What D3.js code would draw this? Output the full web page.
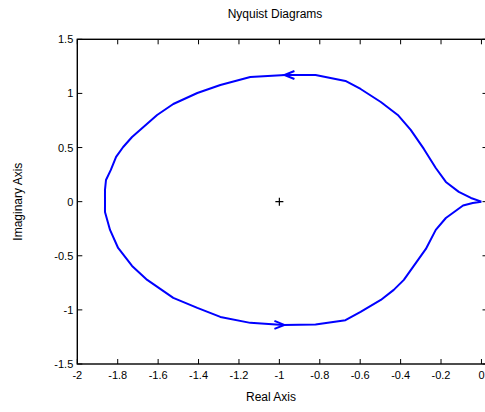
<!DOCTYPE html>
<html><head><meta charset="utf-8">
<script src="https://cdn.jsdelivr.net/npm/d3@7"></script>
<style>body{margin:0;background:#fff}svg{display:block}text{font-family:"Liberation Sans",Arial,sans-serif;fill:#000}</style>
</head><body><svg id="c" width="485" height="412"></svg>
<script>
// Nyquist curve: real and imaginary parts, traced from the origin around the loop
const realPart = [0, -0.052, -0.112, -0.176, -0.226, -0.285, -0.350, -0.414, -0.498, -0.598, -0.673, -0.821, -0.970, -1.144, -1.292, -1.406, -1.525, -1.605, -1.729, -1.773, -1.808, -1.834, -1.858, -1.863, -1.863,
  -1.863, -1.838, -1.798, -1.729, -1.654, -1.525, -1.406, -1.292, -1.144, -0.981, -0.821, -0.673, -0.598, -0.498, -0.434, -0.384, -0.275, -0.226, -0.176, -0.091, -0.043, 0];
const imagPart = [0, 0.034, 0.090, 0.182, 0.311, 0.487, 0.663, 0.801, 0.921, 1.041, 1.115, 1.170, 1.170, 1.151, 1.078, 1.004, 0.902, 0.801, 0.597, 0.505, 0.413, 0.293, 0.200, 0.108, 0,
  -0.095, -0.261, -0.428, -0.594, -0.723, -0.889, -0.982, -1.065, -1.120, -1.139, -1.135, -1.095, -1.018, -0.908, -0.815, -0.723, -0.437, -0.261, -0.151, -0.035, -0.012, 0];
// arrow positions and direction of travel
const arrowAt = [{x: -0.975, y: 1.170, dir: -1}, {x: -0.975, y: -1.139, dir: 1}];
const criticalPoint = [{x: -1, y: 0}];
const xTicks = [-2, -1.8, -1.6, -1.4, -1.2, -1, -0.8, -0.6, -0.4, -0.2, 0];
const yTicks = [-1.5, -1, -0.5, 0, 0.5, 1, 1.5];
const titleText = "Nyquist Diagrams", xLabel = "Real Axis", yLabel = "Imaginary Axis";

const svg = d3.select("#c");
const L = 77.3, R = 487.5, T = 39.3, B = 364;
const x = d3.scaleLinear().domain([-2, 0.03]).range([L, R]);
const y = d3.scaleLinear().domain([-1.5, 1.5]).range([B, T]);

const fmt = d => String(d);
const g = svg.append("g");
g.append("rect").attr("x", L).attr("y", T).attr("width", R - L).attr("height", B - T)
  .attr("fill", "none").attr("stroke", "#000").attr("stroke-width", 1.4);
const tl = 5;
xTicks.forEach(t => {
  const px = x(t);
  g.append("line").attr("x1", px).attr("x2", px).attr("y1", B).attr("y2", B - tl).attr("stroke", "#000");
  g.append("line").attr("x1", px).attr("x2", px).attr("y1", T).attr("y2", T + tl).attr("stroke", "#000");
  g.append("text").attr("x", px).attr("y", B + 15).attr("text-anchor", "middle").attr("font-size", 11).text(fmt(t));
});
yTicks.forEach(t => {
  const py = y(t);
  g.append("line").attr("x1", L).attr("x2", L + tl).attr("y1", py).attr("y2", py).attr("stroke", "#000");
  g.append("line").attr("x1", R).attr("x2", R - tl).attr("y1", py).attr("y2", py).attr("stroke", "#000");
  g.append("text").attr("x", L - 4).attr("y", py + 4).attr("text-anchor", "end").attr("font-size", 11).text(fmt(t));
});
const pts = realPart.map((r, i) => [r, imagPart[i]]);
svg.append("path").datum(pts)
  .attr("d", d3.line().x(d => x(d[0])).y(d => y(d[1])))
  .attr("fill", "none").attr("stroke", "#0000ff").attr("stroke-width", 2).attr("stroke-linejoin", "round");
arrowAt.forEach(a => {
  const px = x(a.x), py = y(a.y);
  const back = -a.dir * 10;
  svg.append("path")
    .attr("d", `M${px + back},${py - 4}L${px},${py}L${px + back},${py + 4}`)
    .attr("fill", "none").attr("stroke", "#0000ff").attr("stroke-width", 2);
});
criticalPoint.forEach(p => {
  const px = x(p.x), py = y(p.y);
  svg.append("path").attr("d", `M${px - 4},${py}H${px + 4}M${px},${py - 4}V${py + 4}`)
    .attr("stroke", "#000").attr("stroke-width", 1.2);
});
svg.append("text").attr("x", 275).attr("y", 18).attr("text-anchor", "middle").attr("font-size", 12).text(titleText);
svg.append("text").attr("x", 271).attr("y", 401).attr("text-anchor", "middle").attr("font-size", 12).text(xLabel);
svg.append("text").attr("transform", `translate(22,${(T + B) / 2}) rotate(-90)`).attr("text-anchor", "middle").attr("font-size", 12).text(yLabel);
</script></body></html>
